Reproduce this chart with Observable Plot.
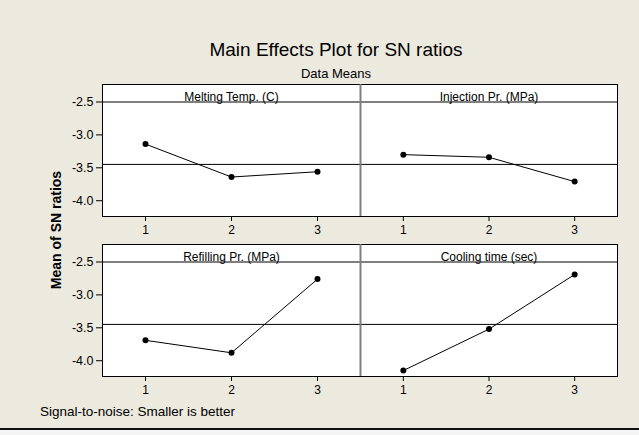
<!DOCTYPE html>
<html>
<head>
<meta charset="utf-8">
<script src="https://cdn.jsdelivr.net/npm/d3@7"></script>
<script src="https://cdn.jsdelivr.net/npm/@observablehq/plot@0.6"></script>
<style>
  html, body { margin: 0; padding: 0; }
  body { width: 639px; height: 435px; overflow: hidden; background: #ECE9DF; font-family: "Liberation Sans", Arial, sans-serif; }
  #wrap { position: relative; width: 639px; height: 435px; }
  .panel { position: absolute; }
  .t { position: absolute; color: #000; white-space: nowrap; }
  #title { left: 0; width: 672px; top: 39px; text-align: center; font-size: 19px; }
  #subtitle { left: 0; width: 672px; top: 66px; text-align: center; font-size: 13px; }
  #ylab { left: 56px; top: 230px; font-size: 14px; font-weight: bold; transform: translate(-50%, -50%) rotate(-90deg); }
  #caption { left: 40px; top: 404px; font-size: 13.5px; }
  #bottomline { position: absolute; left: 0; top: 428px; width: 639px; height: 2px; background: #111; }
  #bottomline2 { position: absolute; left: 0; top: 430px; width: 639px; height: 5px; background: #f4f4f4; }
</style>
</head>
<body>
<div id="wrap">
  <div class="t" id="title">Main Effects Plot for SN ratios</div>
  <div class="t" id="subtitle">Data Means</div>
  <div class="t" id="ylab">Mean of SN ratios</div>
  <div class="t" id="caption">Signal-to-noise: Smaller is better</div>
  <div id="bottomline"></div>
  <div id="bottomline2"></div>
</div>
<script>
// Data
const factors = ["Melting Temp. (C)", "Injection Pr. (MPa)", "Refilling Pr. (MPa)", "Cooling time (sec)"];
const levels = [1, 2, 3];
const meltingTemp = [-3.14, -3.64, -3.56];
const injectionPr = [-3.30, -3.34, -3.71];
const refillingPr = [-3.69, -3.88, -2.76];
const coolingTime = [-4.15, -3.52, -2.69];
const yTicks = [-2.5, -3.0, -3.5, -4.0];
const xTicks = [1, 2, 3];

const seriesList = [meltingTemp, injectionPr, refillingPr, coolingTime];
const allValues = seriesList.flat();
const grandMean = d3.mean(allValues);
const xDomain = [0.5, 3.5];
const yDomain = [-4.24, -2.5];

const wrap = document.getElementById("wrap");

function panel(i) {
  const col = i % 2, row = Math.floor(i / 2);
  const left = col === 0;
  const data = levels.map((l, j) => ({level: l, sn: seriesList[i][j]}));
  const marks = [
    Plot.frame({fill: "white", stroke: "black", strokeWidth: 1}),
    Plot.ruleY([yDomain[1]], {stroke: "black", strokeWidth: 1}),
    Plot.ruleY([grandMean], {stroke: "black", strokeWidth: 1}),
    Plot.text([factors[i]], {text: d => d, frameAnchor: "top", dy: 8, fontSize: 12, fill: "black"}),
    Plot.line(data, {x: "level", y: "sn", stroke: "black", strokeWidth: 1}),
    Plot.dot(data, {x: "level", y: "sn", r: 3, fill: "black", stroke: "none"}),
    Plot.axisX({ticks: xTicks, tickFormat: d => String(d), tickSize: 5, tickPadding: 4, label: null, fontSize: 12})
  ];
  if (left) {
    marks.push(Plot.axisY({ticks: yTicks, tickFormat: d => d.toFixed(1), tickSize: 6, tickPadding: 3, label: null, fontSize: 12.5}));
  } else {
    marks.push(Plot.ruleX([xDomain[0]], {stroke: "#808080", strokeWidth: 2}));
  }
  const p = Plot.plot({
    width: left ? 370 : 277,
    height: 166,
    marginLeft: left ? 102 : 10,
    marginRight: 10,
    marginTop: 10,
    marginBottom: 24,
    insetTop: 17.5,
    style: {background: "transparent", fontFamily: "'Liberation Sans', Arial, sans-serif", fontSize: "12px", color: "#000", overflow: "visible"},
    x: {domain: xDomain},
    y: {domain: yDomain, axis: left ? undefined : null},
    marks
  });
  p.classList.add("panel");
  p.style.left = (left ? 0 : 350) + "px";
  p.style.top = (row === 0 ? 74 : 234) + "px";
  wrap.appendChild(p);
}
[0, 1, 2, 3].forEach(panel);
</script>
</body>
</html>
